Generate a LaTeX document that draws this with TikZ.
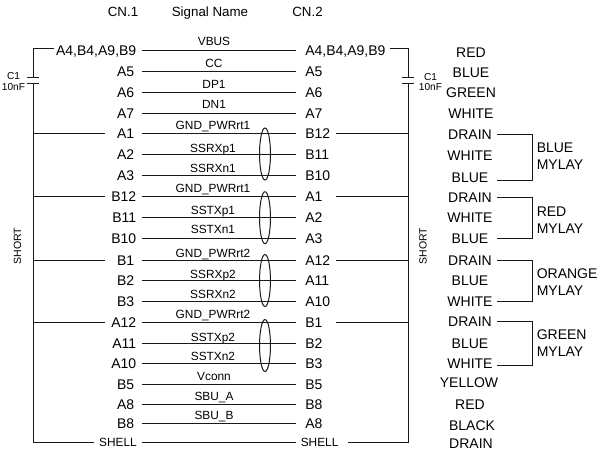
\documentclass[tikz,border=0pt]{standalone}
\usepackage{fontspec}
\setmainfont{Liberation Sans}
\usepackage{tikz}
\usetikzlibrary{positioning}

\begin{document}
\begin{tikzpicture}[x=0.75pt,y=0.75pt,yscale=-1,xscale=1]
  \useasboundingbox (0,0) rectangle (608,454);
  \tikzstyle{wire} = [line width=0.75pt,black!90]
  \tikzstyle{pinl} = [anchor=east,inner xsep=5.6pt,inner ysep=0pt,text height=7.5pt,text depth=0pt,font=\fontsize{10.5}{12.75}\selectfont]
  \tikzstyle{pinwide} = [pinl,inner xsep=4.1pt]
  \tikzstyle{pinr} = [anchor=west,inner xsep=6.75pt,inner ysep=0pt,text height=7.5pt,text depth=0pt,font=\fontsize{10.5}{12.75}\selectfont]
  \tikzstyle{shellpin} = [inner xsep=3.4pt,inner ysep=0pt,text height=6.4pt,text depth=0pt,font=\fontsize{8.9}{11}\selectfont]
  \tikzstyle{signal} = [anchor=base,inner sep=0pt,font=\fontsize{8.9}{11}\selectfont]
  \tikzstyle{wirecolor} = [minimum width=40.5pt,inner xsep=0pt,inner ysep=0pt,text height=7.5pt,text depth=0pt,font=\fontsize{10.5}{12.75}\selectfont]
  \tikzstyle{mylay} = [anchor=west,align=left,inner sep=0pt,font=\fontsize{10.5}{12.75}\selectfont]
  \tikzstyle{head} = [inner sep=0pt,text height=7.2pt,text depth=0pt,font=\fontsize{10}{12}\selectfont]
  \tikzstyle{capval} = [align=center,inner sep=0pt,font=\fontsize{7.6}{8}\selectfont]
  \tikzstyle{shortlbl} = [rotate=90,inner sep=0pt,font=\fontsize{7.9}{9}\selectfont]

  % Column headers
  \node [head] (headA) at (123,12) {CN.1};
  \node [head] (headS) at (210,12) {Signal Name};
  \node [head] (headB) at (307.5,12) {CN.2};

  % Pins of CN.1
  \node [pinwide] (lA4) at (142,50) {A4,B4,A9,B9};
  \node [pinl] (lA5) at (142,71) {A5};
  \node [pinl] (lA6) at (142,92) {A6};
  \node [pinl] (lA7) at (142,113) {A7};
  \node [pinl] (lA1) at (142,133) {A1};
  \node [pinl] (lA2) at (142,154) {A2};
  \node [pinl] (lA3) at (142,175) {A3};
  \node [pinwide] (lB12) at (142,196) {B12};
  \node [pinwide] (lB11) at (142,217) {B11};
  \node [pinwide] (lB10) at (142,238) {B10};
  \node [pinl] (lB1) at (142,260) {B1};
  \node [pinl] (lB2) at (142,280) {B2};
  \node [pinl] (lB3) at (142,301) {B3};
  \node [pinwide] (lA12) at (142,322) {A12};
  \node [pinwide] (lA11) at (142,343) {A11};
  \node [pinwide] (lA10) at (142,363) {A10};
  \node [pinl] (lB5) at (142,384) {B5};
  \node [pinl] (lA8) at (142,404) {A8};
  \node [pinl] (lB8) at (142,423) {B8};
  \node [shellpin,anchor=east,inner xsep=3.75pt] (lShell) at (142,442) {SHELL};

  % Pins of CN.2
  \node [pinr] (rA4) at (296,50) {A4,B4,A9,B9};
  \node [pinr] (rA5) at (296,71) {A5};
  \node [pinr] (rA6) at (296,92) {A6};
  \node [pinr] (rA7) at (296,113) {A7};
  \node [pinr] (rB12) at (296,133) {B12};
  \node [pinr] (rB11) at (296,154) {B11};
  \node [pinr] (rB10) at (296,175) {B10};
  \node [pinr] (rA1) at (296,196) {A1};
  \node [pinr] (rA2) at (296,217) {A2};
  \node [pinr] (rA3) at (296,238) {A3};
  \node [pinr] (rA12) at (296,260) {A12};
  \node [pinr] (rA11) at (296,280) {A11};
  \node [pinr] (rA10) at (296,301) {A10};
  \node [pinr] (rB1) at (296,322) {B1};
  \node [pinr] (rB2) at (296,343) {B2};
  \node [pinr] (rB3) at (296,363) {B3};
  \node [pinr] (rB5) at (296,384) {B5};
  \node [pinr] (rB8) at (296,404) {B8};
  \node [pinr] (rA8) at (296,423) {A8};
  \node [shellpin,anchor=west] (rShell) at (296,442) {SHELL};

  % Wires between the connectors
  \draw [wire] (lA4.east) -- (rA4.west);
  \draw [wire] (lA5.east) -- (rA5.west);
  \draw [wire] (lA6.east) -- (rA6.west);
  \draw [wire] (lA7.east) -- (rA7.west);
  \draw [wire] (lA1.east) -- (rB12.west);
  \draw [wire] (lA2.east) -- (rB11.west);
  \draw [wire] (lA3.east) -- (rB10.west);
  \draw [wire] (lB12.east) -- (rA1.west);
  \draw [wire] (lB11.east) -- (rA2.west);
  \draw [wire] (lB10.east) -- (rA3.west);
  \draw [wire] (lB1.east) -- (rA12.west);
  \draw [wire] (lB2.east) -- (rA11.west);
  \draw [wire] (lB3.east) -- (rA10.west);
  \draw [wire] (lA12.east) -- (rB1.west);
  \draw [wire] (lA11.east) -- (rB2.west);
  \draw [wire] (lA10.east) -- (rB3.west);
  \draw [wire] (lB5.east) -- (rB5.west);
  \draw [wire] (lA8.east) -- (rB8.west);
  \draw [wire] (lB8.east) -- (rA8.west);
  \draw [wire] (lShell.east) -- (rShell.west);

  % Signal names
  \node [signal] (sVbus) at (214,45.7) {VBUS};
  \node [signal] (sCc) at (214,67.7) {CC};
  \node [signal] (sDp) at (214,88) {DP1};
  \node [signal] (sDn) at (214,108.7) {DN1};
  \node [signal] (sGndA) at (213,129.3) {GND\_PWRrt1};
  \node [signal] (sRxpA) at (213,152.7) {SSRXp1};
  \node [signal] (sRxnA) at (213,172.3) {SSRXn1};
  \node [signal] (sGndB) at (213,192.3) {GND\_PWRrt1};
  \node [signal] (sTxpA) at (213,214) {SSTXp1};
  \node [signal] (sTxnA) at (213,233.7) {SSTXn1};
  \node [signal] (sGndC) at (213,257) {GND\_PWRrt2};
  \node [signal] (sRxpB) at (213,278.7) {SSRXp2};
  \node [signal] (sRxnB) at (213,298) {SSRXn2};
  \node [signal] (sGndD) at (213,318.7) {GND\_PWRrt2};
  \node [signal] (sTxpB) at (213,341.3) {SSTXp2};
  \node [signal] (sTxnB) at (213,360.7) {SSTXn2};
  \node [signal] (sVconn) at (214,380) {Vconn};
  \node [signal] (sSbuA) at (214,400) {SBU\_A};
  \node [signal] (sSbuB) at (214,419.3) {SBU\_B};

  % Draw the pair ellipses
  \draw [wire] (265,154) ellipse (4.1pt and 19.5pt);
  \draw [wire] (265,217.7) ellipse (4.1pt and 19.5pt);
  \draw [wire] (265,280.5) ellipse (4.1pt and 19.5pt);
  \draw [wire] (265,345.5) ellipse (4.1pt and 19.5pt);

  % Left short bus with capacitor
  \coordinate (vbusL) at (54,48);
  \coordinate (plateLa) at (33.5,77);
  \coordinate (plateLb) at (33.5,83);
  \coordinate (stubL) at (105,0);
  \draw [wire] (vbusL) -| (plateLa);
  \draw [wire] (plateLb) |- (lShell.west);
  \draw [wire] (27,77) -- (39,77);
  \draw [wire] (27,83) -- (39,83);
  \draw [wire] (plateLb |- lA1) -- (stubL |- lA1);
  \draw [wire] (plateLb |- lB12) -- (stubL |- lB12);
  \draw [wire] (plateLb |- lB1) -- (stubL |- lB1);
  \draw [wire] (plateLb |- lA12) -- (stubL |- lA12);

  % Right short bus with capacitor
  \coordinate (vbusR) at (390,48);
  \coordinate (plateRa) at (408,77);
  \coordinate (plateRb) at (408,83);
  \coordinate (stubR) at (336,0);
  \draw [wire] (vbusR) -| (plateRa);
  \draw [wire] (plateRb) |- ([xshift=3.3pt]rShell.east);
  \draw [wire] (402,77) -- (414,77);
  \draw [wire] (402,83) -- (414,83);
  \draw [wire] (plateRb |- rB12) -- (stubR |- rB12);
  \draw [wire] (plateRb |- rA1) -- (stubR |- rA1);
  \draw [wire] (plateRb |- rA12) -- (stubR |- rA12);
  \draw [wire] (plateRb |- rB1) -- (stubR |- rB1);

  % Label the buses
  \node [capval] (capL) at (13.5,81.5) {C1\\10nF};
  \node [capval] (capR) at (430.5,82) {C1\\10nF};
  \node [shortlbl] (shortL) at (17.5,246) {SHORT};
  \node [shortlbl] (shortR) at (423,246) {SHORT};

  % Wire colours
  \node [wirecolor] (cRedA) at (471,52) {RED};
  \node [wirecolor] (cBlueA) at (471,72) {BLUE};
  \node [wirecolor] (cGreenA) at (471,92) {GREEN};
  \node [wirecolor] (cWhiteA) at (471,113) {WHITE};
  \node [wirecolor] (cDrainA) at (470,134) {DRAIN};
  \node [wirecolor] (cWhiteB) at (470,155) {WHITE};
  \node [wirecolor] (cBlueB) at (470,177) {BLUE};
  \node [wirecolor] (cDrainB) at (470,197.5) {DRAIN};
  \node [wirecolor] (cWhiteC) at (470,217) {WHITE};
  \node [wirecolor] (cBlueC) at (470,238) {BLUE};
  \node [wirecolor] (cDrainC) at (470,260) {DRAIN};
  \node [wirecolor] (cBlueD) at (470,280) {BLUE};
  \node [wirecolor] (cWhiteD) at (470,301) {WHITE};
  \node [wirecolor] (cDrainD) at (470,321.5) {DRAIN};
  \node [wirecolor] (cBlueE) at (470,343) {BLUE};
  \node [wirecolor] (cWhiteE) at (470,363) {WHITE};
  \node [wirecolor] (cYellow) at (469,382) {YELLOW};
  \node [wirecolor] (cRedB) at (470,404) {RED};
  \node [wirecolor] (cBlack) at (472,425) {BLACK};
  \node [wirecolor] (cDrainE) at (471,443) {DRAIN};

  % Draw the mylay brackets
  \draw [wire] (cDrainA.east) -- ++(35,0) |- ([yshift=2.25pt]cBlueB.east);
  \draw [wire] (cDrainB.east) -- ++(35,0) |- (cBlueC.east);
  \draw [wire] (cDrainC.east) -- ++(35,0) |- (cWhiteD.east);
  \draw [wire] (cDrainD.east) -- ++(35,0) |- ([yshift=1.5pt]cWhiteE.east);
  \node [mylay] (mBlue) at (536.5,156.5) {BLUE\\MYLAY};
  \node [mylay] (mRed) at (536.5,220.5) {RED\\MYLAY};
  \node [mylay] (mOrange) at (536.5,282.5) {ORANGE\\MYLAY};
  \node [mylay] (mGreen) at (536.5,343.5) {GREEN\\MYLAY};
\end{tikzpicture}
\end{document}
